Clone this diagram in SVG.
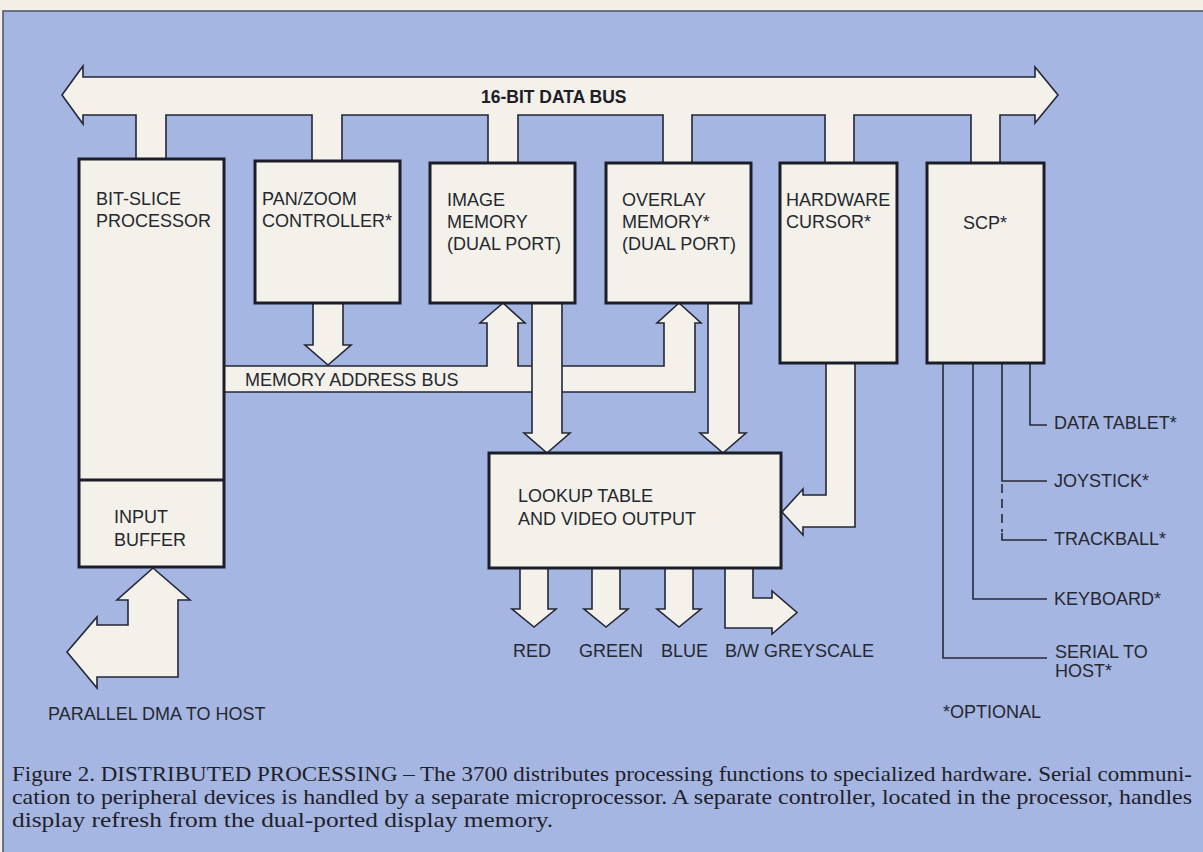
<svg xmlns="http://www.w3.org/2000/svg" width="1203" height="852" viewBox="0 0 1203 852">
<style>
.bus{fill:#f3f1ea;stroke:#232736;stroke-width:1.6;stroke-linejoin:miter}
.box{fill:#f3f1ea;stroke:#1b1e28;stroke-width:3}
.wire{fill:none;stroke:#262a38;stroke-width:1.6}
.dash{fill:none;stroke:#262a38;stroke-width:1.6;stroke-dasharray:9 6}
.lbl{font-family:"Liberation Sans",Arial,sans-serif;font-size:18px;fill:#25282f}
.bold{font-family:"Liberation Sans",Arial,sans-serif;font-size:17.5px;font-weight:bold;fill:#1d2027}
.cap{font-family:"Liberation Serif","Times New Roman",serif;font-size:22px;fill:#1f2128}
</style>
<rect x="0" y="0" width="1203" height="852" fill="#f2efe7"/>
<rect x="3" y="11" width="1202" height="845" fill="#a5b6e2" stroke="#4a5266" stroke-width="1.5"/>

<g id="connectors">
  <polygon id="data-bus" class="bus" points="62,95 83,66 83,77 1035,77 1035,67 1058,95 1035,123 1035,115 1000,115 1000,163 971,163 971,115 854,115 854,163 825,163 825,115 692,115 692,163 663,163 663,115 518,115 518,163 488,163 488,115 342,115 342,161 312,161 312,115 166,115 166,159 136,159 136,115 83,115 83,124"/>
  <polygon id="mem-addr-bus" class="bus" points="224,366 487,366 487,323 480,323 503,303 525,323 518,323 518,366 664,366 664,323 657,323 679,303 701,323 695,323 695,392 224,392"/>
  <polygon id="panzoom-to-bus" class="bus" points="313,303 313,345 305,345 328,365 351,345 343,345 343,303"/>
  <polygon id="image-to-lut" class="bus" points="532,303 532,433 524,433 547,453 570,433 562,433 562,303"/>
  <polygon id="overlay-to-lut" class="bus" points="708,303 708,433 700,433 723,453 746,433 739,433 739,303"/>
  <polygon id="cursor-to-lut" class="bus" points="826,362 826,495 803,495 803,489 782,512 803,535 803,527 855,527 855,362"/>
  <polygon id="out-red" class="bus" points="520,568 520,609 512,609 534,627 556,609 548,609 548,568"/>
  <polygon id="out-green" class="bus" points="592,568 592,609 584,609 606,627 628,609 620,609 620,568"/>
  <polygon id="out-blue" class="bus" points="665,568 665,609 657,609 679,627 701,609 693,609 693,568"/>
  <polygon id="out-bw" class="bus" points="725,568 725,628 772,628 772,634 797,612.5 772,591 772,598 753,598 753,568"/>
  <polygon id="dma-arrow" class="bus" points="153,568 190,600 178,600 178,677 97,677 97,688 67,652 97,617 97,625 128,625 128,600 117,600"/>
  <path id="scp-data-tablet" class="wire" d="M1030,364 V425 H1047"/>
  <path id="scp-joystick" class="wire" d="M1002,364 V481 H1047"/>
  <path id="scp-trackball-dash" class="dash" d="M1002,484 V532"/>
  <path id="scp-trackball" class="wire" d="M1002,533 V540 H1047"/>
  <path id="scp-keyboard" class="wire" d="M973,364 V599 H1047"/>
  <path id="scp-serial" class="wire" d="M943,364 V658 H1047"/>
</g>

<text class="bold" x="481" y="103">16-BIT DATA BUS</text>
<text class="lbl" x="245" y="386">MEMORY ADDRESS BUS</text>

<g id="bit-slice-processor">
  <rect class="box" x="79" y="159" width="145" height="408"/>
  <line x1="79" y1="480" x2="224" y2="480" stroke="#1b1e28" stroke-width="3"/>
  <text class="lbl" x="96" y="205">BIT-SLICE</text>
  <text class="lbl" x="96" y="227">PROCESSOR</text>
</g>
<g id="input-buffer">
  <text class="lbl" x="114" y="523">INPUT</text>
  <text class="lbl" x="114" y="546">BUFFER</text>
</g>
<g id="pan-zoom-controller">
  <rect class="box" x="255" y="161" width="145" height="142"/>
  <text class="lbl" x="262" y="205">PAN/ZOOM</text>
  <text class="lbl" x="262" y="227">CONTROLLER*</text>
</g>
<g id="image-memory">
  <rect class="box" x="430" y="163" width="145" height="140"/>
  <text class="lbl" x="447" y="206">IMAGE</text>
  <text class="lbl" x="447" y="228">MEMORY</text>
  <text class="lbl" x="447" y="250">(DUAL PORT)</text>
</g>
<g id="overlay-memory">
  <rect class="box" x="606" y="163" width="145" height="140"/>
  <text class="lbl" x="622" y="206">OVERLAY</text>
  <text class="lbl" x="622" y="228">MEMORY*</text>
  <text class="lbl" x="622" y="250">(DUAL PORT)</text>
</g>
<g id="hardware-cursor">
  <rect class="box" x="780" y="163" width="117" height="200"/>
  <text class="lbl" x="786" y="206">HARDWARE</text>
  <text class="lbl" x="786" y="228">CURSOR*</text>
</g>
<g id="scp">
  <rect class="box" x="927" y="163" width="117" height="200"/>
  <text class="lbl" x="963" y="229">SCP*</text>
</g>
<g id="lookup-table">
  <rect class="box" x="489" y="453" width="292" height="115"/>
  <text class="lbl" x="518" y="502">LOOKUP TABLE</text>
  <text class="lbl" x="518" y="525">AND VIDEO OUTPUT</text>
</g>

<g id="outputs">
  <text class="lbl" x="513" y="657">RED</text>
  <text class="lbl" x="579" y="657">GREEN</text>
  <text class="lbl" x="661" y="657">BLUE</text>
  <text class="lbl" x="725" y="657">B/W GREYSCALE</text>
</g>
<g id="peripherals">
  <text class="lbl" x="1054" y="429">DATA TABLET*</text>
  <text class="lbl" x="1054" y="487">JOYSTICK*</text>
  <text class="lbl" x="1054" y="545">TRACKBALL*</text>
  <text class="lbl" x="1054" y="605">KEYBOARD*</text>
  <text class="lbl" x="1055" y="658">SERIAL TO</text>
  <text class="lbl" x="1055" y="677">HOST*</text>
</g>
<text class="lbl" x="943" y="718">*OPTIONAL</text>
<text class="lbl" x="48" y="720">PARALLEL DMA TO HOST</text>

<g id="caption">
  <text class="cap" x="12" y="781" textLength="1180" lengthAdjust="spacingAndGlyphs">Figure 2. DISTRIBUTED PROCESSING – The 3700 distributes processing functions to specialized hardware. Serial communi-</text>
  <text class="cap" x="12" y="804" textLength="1180" lengthAdjust="spacingAndGlyphs">cation to peripheral devices is handled by a separate microprocessor. A separate controller, located in the processor, handles</text>
  <text class="cap" x="12" y="827" textLength="541" lengthAdjust="spacingAndGlyphs">display refresh from the dual-ported display memory.</text>
</g>
</svg>
